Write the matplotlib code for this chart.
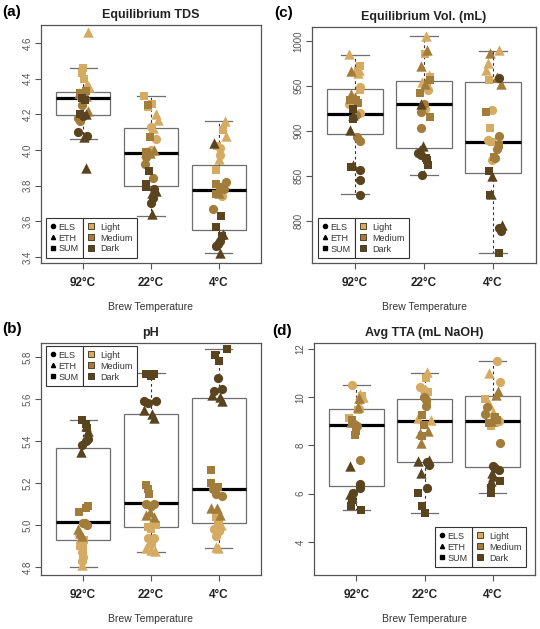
import matplotlib
matplotlib.use("Agg")
import matplotlib.pyplot as plt
from matplotlib.lines import Line2D
import numpy as np

plt.rcParams['font.family'] = ['Liberation Sans', 'DejaVu Sans']

# ---------------- categories ----------------
temps = ["92°C", "22°C", "4°C"]
origins = ["ELS", "ETH", "SUM"]
roasts = ["Light", "Medium", "Dark"]
origin_markers = {"ELS": "o", "ETH": "^", "SUM": "s"}
roast_colors = {"Light": "#D5AA63", "Medium": "#A27C3A", "Dark": "#5A4420"}

# point order inside each group: roast (Light, Medium, Dark) x origin (ELS, ETH, SUM) x 3 replicates
pt_roast = [r for r in roasts for _ in range(9)]
pt_origin = [o for _ in roasts for o in origins for _ in range(3)]

# ---------------- (a) Equilibrium TDS ----------------
tds_92 = [4.30, 4.33, 4.34, 4.66, 4.37, 4.35, 4.46, 4.43, 4.40,
          4.25, 4.16, 4.18, 4.22, 4.30, 4.32, 4.32, 4.33, 4.31,
          4.10, 4.08, 4.19, 4.07, 3.90, 4.20, 4.29, 4.20, 4.28]
tds_22 = [4.13, 4.06, 4.00, 4.20, 4.17, 4.12, 4.30, 4.26, 4.24,
          3.96, 3.92, 3.84, 3.98, 4.00, 3.99, 4.25, 4.07, 3.99,
          3.78, 3.73, 3.70, 3.64, 3.77, 3.76, 3.88, 3.81, 3.79]
tds_4 = [4.01, 3.97, 3.74, 4.16, 4.08, 3.95, 4.11, 4.02, 3.89,
         3.82, 3.78, 3.67, 3.80, 3.79, 3.76, 3.81, 3.79, 3.75,
         3.49, 3.47, 3.46, 4.04, 3.42, 3.53, 3.63, 3.57, 3.52]
tds_jit_92 = [-0.05, 0.03, 0.06, 0.07, 0.06, 0.08, 0.00, -0.01, 0.02,
              -0.02, -0.05, -0.08, 0.07, 0.04, -0.06, -0.05, 0.05, 0.02,
              -0.07, 0.06, 0.00, 0.01, 0.04, 0.05, -0.01, -0.05, 0.03]
tds_jit_22 = [0.00, 0.07, 0.00, 0.07, 0.10, 0.03, -0.11, 0.01, -0.05,
              -0.07, -0.09, 0.03, -0.01, 0.05, -0.08, -0.05, -0.01, -0.08,
              0.05, 0.03, 0.00, 0.02, 0.08, 0.01, -0.03, -0.07, -0.07]
tds_jit_4 = [0.01, 0.02, 0.05, 0.09, 0.10, 0.00, 0.06, -0.03, -0.04,
             0.11, 0.08, -0.08, 0.05, 0.03, 0.00, -0.04, 0.02, -0.04,
             0.01, -0.01, -0.04, -0.07, 0.02, 0.06, 0.03, -0.04, 0.05]
tds_q1 = [4.195, 3.80, 3.55]
tds_med = [4.29, 3.98, 3.775]
tds_q3 = [4.325, 4.125, 3.915]
tds_lo = [4.06, 3.63, 3.42]
tds_hi = [4.46, 4.30, 4.16]

# ---------------- (c) Equilibrium Vol. ----------------
vol_92 = [949, 930, 920, 986, 965, 968, 973, 967, 946,
          893, 889, 918, 967, 941, 938, 935, 935, 931,
          857, 846, 829, 901, 862, 918, 914, 860, 925]
vol_22 = [946, 925, 950, 1006, 955, 962, 986, 950, 960,
          921, 904, 930, 990, 972, 953, 957, 943, 916,
          876, 873, 851, 930, 883, 879, 868, 862, 870]
vol_4 = [923, 890, 868, 990, 976, 968, 957, 903, 888,
         895, 870, 880, 987, 953, 960, 921, 884, 871,
         959, 792, 789, 850, 795, 830, 855, 829, 764]
vol_jit_92 = [0.07, -0.08, 0.07, -0.08, 0.04, 0.06, 0.07, 0.05, 0.08,
              0.03, 0.08, 0.02, -0.06, -0.05, 0.00, -0.07, 0.02, 0.05,
              0.08, 0.07, 0.08, -0.07, -0.03, -0.02, -0.03, -0.05, -0.02]
vol_jit_22 = [0.06, 0.02, 0.03, 0.03, -0.03, 0.07, 0.01, 0.04, 0.08,
              -0.05, -0.05, 0.00, 0.05, -0.04, 0.02, 0.08, -0.06, 0.08,
              -0.09, -0.05, -0.03, -0.04, -0.01, -0.06, 0.05, 0.06, 0.03]
vol_jit_4 = [-0.01, -0.08, -0.01, 0.08, -0.07, -0.10, -0.06, -0.05, -0.01,
             0.08, 0.02, 0.05, -0.05, 0.11, 0.06, -0.10, 0.09, 0.01,
             0.09, 0.09, 0.11, -0.02, 0.13, -0.03, -0.06, -0.05, 0.08]
vol_q1 = [896.7, 880.7, 853.0]
vol_med = [919.6, 930.0, 888.0]
vol_q3 = [946.7, 955.6, 954.8]
vol_lo = [829.6, 851.0, 764.0]
vol_hi = [985.0, 1006.5, 989.3]

# ---------------- (b) pH ----------------
ph_92 = [4.87, 4.85, 4.83, 4.97, 4.95, 4.81, 4.93, 4.90, 4.89,
         5.01, 5.00, 5.01, 4.96, 4.98, 4.95, 5.09, 5.08, 5.06,
         5.41, 5.38, 5.40, 5.47, 5.45, 5.35, 5.50, 5.48, 5.46]
ph_22 = [4.94, 4.94, 4.91, 4.89, 4.88, 4.875, 4.99, 5.00, 4.98,
         5.10, 5.10, 5.09, 5.05, 5.04, 5.06, 5.19, 5.17, 5.15,
         5.59, 5.59, 5.58, 5.55, 5.53, 5.51, 5.72, 5.72, 5.71]
ph_4 = [4.98, 4.97, 4.95, 4.89, 4.895, 5.00, 5.04, 5.02, 5.01,
        5.15, 5.14, 5.17, 5.08, 5.08, 5.05, 5.26, 5.20, 5.18,
        5.70, 5.65, 5.64, 5.62, 5.59, 5.61, 5.84, 5.81, 5.78]
ph_jit_92 = [-0.02, 0.00, -0.02, -0.06, -0.03, -0.02, 0.01, -0.04, 0.00,
             0.00, 0.06, 0.03, -0.05, -0.07, -0.01, 0.07, 0.04, -0.06,
             0.07, -0.02, 0.05, 0.05, 0.07, -0.03, -0.01, 0.04, 0.06]
ph_jit_22 = [-0.05, 0.05, 0.00, -0.08, 0.00, 0.06, -0.05, 0.07, 0.00,
             -0.07, 0.05, 0.00, -0.07, 0.04, -0.02, -0.07, -0.05, -0.03,
             -0.10, 0.07, -0.05, -0.10, 0.02, 0.05, -0.08, 0.05, 0.00]
ph_jit_4 = [-0.07, 0.00, -0.05, -0.01, -0.05, 0.03, -0.05, -0.02, 0.00,
            -0.05, 0.04, -0.08, -0.11, -0.03, 0.01, -0.12, -0.11, -0.02,
            -0.02, 0.05, -0.07, -0.10, 0.05, 0.02, 0.12, -0.06, 0.00]
ph_q1 = [4.93, 4.99, 5.01]
ph_med = [5.014, 5.105, 5.172]
ph_q3 = [5.368, 5.53, 5.606]
ph_lo = [4.80, 4.87, 4.89]
ph_hi = [5.50, 5.725, 5.84]

# ---------------- (d) Avg TTA ----------------
tta_92 = [10.51, 9.90, 9.50, 10.12, 9.64, 10.00, 9.48, 9.13, 10.05,
          8.81, 7.41, 8.90, 9.99, 8.97, 9.60, 9.06, 8.44, 8.60,
          6.41, 6.24, 6.03, 7.16, 6.00, 5.85, 5.75, 5.50, 5.31]
tta_22 = [10.41, 10.30, 10.17, 11.06, 9.13, 9.06, 10.79, 9.82, 10.20,
          10.00, 9.89, 9.64, 8.10, 8.60, 8.50, 9.27, 8.86, 8.40,
          7.30, 6.24, 7.20, 7.34, 7.38, 6.86, 6.03, 5.50, 5.20]
tta_4 = [11.52, 10.62, 9.03, 11.02, 9.70, 9.40, 9.92, 8.79, 8.95,
         9.61, 9.31, 8.10, 10.26, 10.10, 9.00, 9.20, 8.92, 9.05,
         7.16, 6.99, 7.05, 6.86, 6.75, 6.51, 6.51, 6.24, 6.03]
tta_jit_92 = [-0.06, 0.05, 0.04, 0.06, 0.03, 0.10, 0.03, -0.11, 0.08,
              0.01, 0.06, -0.03, 0.04, -0.08, 0.02, -0.06, -0.02, 0.00,
              0.06, 0.05, -0.05, -0.09, -0.09, -0.06, -0.07, -0.08, 0.07]
tta_jit_22 = [-0.06, -0.01, 0.02, 0.03, -0.09, 0.10, 0.02, 0.03, 0.05,
              -0.01, 0.02, 0.02, -0.05, 0.05, -0.07, -0.03, -0.01, -0.04,
              0.03, 0.03, 0.07, -0.09, 0.07, -0.05, -0.09, -0.04, 0.01]
tta_jit_4 = [0.06, 0.11, 0.09, -0.05, -0.06, 0.00, -0.11, -0.02, 0.04,
             -0.09, -0.11, 0.10, 0.08, 0.05, -0.02, 0.03, -0.06, 0.07,
             0.01, 0.09, 0.03, -0.01, 0.00, -0.03, 0.10, -0.03, -0.02]
tta_q1 = [6.33, 7.31, 7.09]
tta_med = [8.83, 9.02, 9.02]
tta_q3 = [9.52, 9.92, 10.06]
tta_lo = [5.31, 5.20, 6.03]
tta_hi = [10.51, 11.02, 11.52]

# ---------------- figure ----------------
fig = plt.figure(figsize=(5.40, 6.29), dpi=100)
W, H = 540.0, 629.0

def px_axes(l, t, r, b):
    return fig.add_axes([l / W, 1 - b / H, (r - l) / W, (b - t) / H])

panels = [
    dict(rect=(41, 25, 261, 263), label="(a)", lab_xy=(2, 12), title="Equilibrium TDS",
         groups=[tds_92, tds_22, tds_4], jit=[tds_jit_92, tds_jit_22, tds_jit_4],
         stats=(tds_q1, tds_med, tds_q3, tds_lo, tds_hi), ylim=(3.366, 4.70),
         yticks=[3.4, 3.6, 3.8, 4.0, 4.2, 4.4, 4.6], yfmt="{:.1f}", leg="lower left",
         leg_anchor=(0.023, 0.021)),
    dict(rect=(312, 27, 536, 263), label="(c)", lab_xy=(274, 13), title="Equilibrium Vol. (mL)",
         groups=[vol_92, vol_22, vol_4], jit=[vol_jit_92, vol_jit_22, vol_jit_4],
         stats=(vol_q1, vol_med, vol_q3, vol_lo, vol_hi), ylim=(753, 1016),
         yticks=[800, 850, 900, 950, 1000], yfmt="{:.0f}", leg="lower left",
         leg_anchor=(0.027, 0.021)),
    dict(rect=(41, 343, 261, 575), label="(b)", lab_xy=(2, 329), title="pH",
         groups=[ph_92, ph_22, ph_4], jit=[ph_jit_92, ph_jit_22, ph_jit_4],
         stats=(ph_q1, ph_med, ph_q3, ph_lo, ph_hi), ylim=(4.762, 5.867),
         yticks=[4.8, 5.0, 5.2, 5.4, 5.6, 5.8], yfmt="{:.1f}", leg="upper left",
         leg_anchor=(0.023, 0.987)),
    dict(rect=(314, 343, 535, 575), label="(d)", lab_xy=(272, 331), title="Avg TTA (mL NaOH)",
         groups=[tta_92, tta_22, tta_4], jit=[tta_jit_92, tta_jit_22, tta_jit_4],
         stats=(tta_q1, tta_med, tta_q3, tta_lo, tta_hi), ylim=(2.63, 12.25),
         yticks=[4, 6, 8, 10, 12], yfmt="{:.0f}", leg="lower right",
         leg_anchor=(0.959, 0.034)),
]

frame_col = "#555555"
text_col = "#222222"

def add_legends(ax, loc, anchor):
    h1 = [Line2D([], [], marker=origin_markers[o], color="black", linestyle="none",
                 markersize=3.0) for o in origins]
    h2 = [Line2D([], [], marker="s", markerfacecolor=roast_colors[r], markeredgecolor="#3a2c14",
                 markeredgewidth=0.6, linestyle="none", markersize=4.8) for r in roasts]
    kw = dict(frameon=True, fancybox=False, framealpha=1, fontsize=6.5,
              borderpad=0.5, labelspacing=0.22,
              borderaxespad=0, labelcolor="#333333")
    kw1 = dict(kw, handlelength=0.5, handletextpad=0.35)
    kw2 = dict(kw, handlelength=0.9, handletextpad=0.5)
    if loc == "lower right":
        leg2 = ax.legend(h2, roasts, loc=loc, bbox_to_anchor=anchor, **kw2)
        ax.add_artist(leg2)
        fig.canvas.draw()
        bb = leg2.get_window_extent().transformed(ax.transAxes.inverted())
        leg1 = ax.legend(h1, origins, loc=loc, bbox_to_anchor=(bb.x0, anchor[1]), **kw1)
    else:
        leg1 = ax.legend(h1, origins, loc=loc, bbox_to_anchor=anchor, **kw1)
        ax.add_artist(leg1)
        fig.canvas.draw()
        bb = leg1.get_window_extent().transformed(ax.transAxes.inverted())
        leg2 = ax.legend(h2, roasts, loc=loc, bbox_to_anchor=(bb.x1, anchor[1]), **kw2)
    for lg in (leg1, leg2):
        lg.get_frame().set_edgecolor("#333333")
        lg.get_frame().set_linewidth(0.8)
        lg.set_zorder(10)

marker_sizes = {"o": 44, "^": 56, "s": 40}

for p in panels:
    ax = px_axes(*p["rect"])
    q1, med, q3, lo, hi = p["stats"]
    stats = [dict(q1=q1[i], med=med[i], q3=q3[i], whislo=lo[i], whishi=hi[i], fliers=[])
             for i in range(3)]
    ax.bxp(stats, positions=[1, 2, 3], widths=0.8, capwidths=0.4, patch_artist=True,
           showfliers=False,
           boxprops=dict(facecolor="white", edgecolor="#6e6e6e", linewidth=0.9),
           medianprops=dict(color="black", linewidth=2.3, solid_capstyle="butt", zorder=4),
           whiskerprops=dict(color="#333333", linewidth=0.8, linestyle=(0, (2.5, 2.5))),
           capprops=dict(color="#6e6e6e", linewidth=0.9))
    for gi, (vals, jit) in enumerate(zip(p["groups"], p["jit"])):
        for v, dx, r, o in zip(vals, jit, pt_roast, pt_origin):
            m = origin_markers[o]
            ax.scatter(gi + 1 + dx, v, marker=m, s=marker_sizes[m], color=roast_colors[r],
                       linewidths=0, zorder=5)
    ax.set_xlim(0.38, 3.62)
    ax.set_ylim(*p["ylim"])
    ax.set_xticks([1, 2, 3])
    ax.set_xticklabels(temps, fontsize=8.5, fontweight="bold", color=text_col)
    ax.set_yticks(p["yticks"])
    ax.set_yticklabels([p["yfmt"].format(t) for t in p["yticks"]], rotation=90,
                       va="center", fontsize=7, color="#555555")
    ax.tick_params(axis="both", direction="out", length=4, width=0.8, color=frame_col)
    ax.tick_params(axis="x", pad=6)
    ax.tick_params(axis="y", pad=2)
    for s in ax.spines.values():
        s.set_color(frame_col)
        s.set_linewidth(0.9)
    l, t, r, b = p["rect"]
    fig.text((l + r) / 2 / W, 1 - (t - 10) / H, p["title"], ha="center", va="center",
             fontsize=9, fontweight="bold", color=text_col)
    fig.text((l + r) / 2 / W, 1 - (b + 44) / H, "Brew Temperature", ha="center", va="center",
             fontsize=7.5, color="#333333")
    fig.text(p["lab_xy"][0] / W, 1 - p["lab_xy"][1] / H, p["label"], ha="left", va="center",
             fontsize=11, fontweight="bold", color="black")
    add_legends(ax, p["leg"], p["leg_anchor"])

fig.savefig("out.png", dpi=100)
